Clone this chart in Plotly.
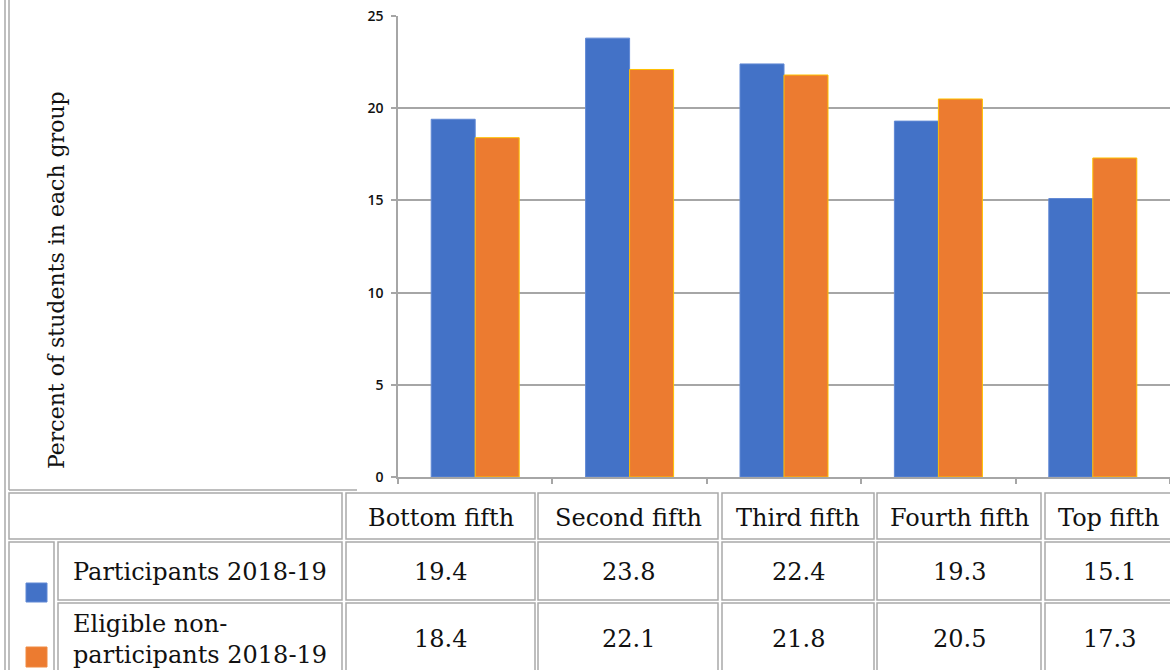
import plotly.graph_objects as go

# ---------------- data ----------------
categories = ["Bottom fifth", "Second fifth", "Third fifth", "Fourth fifth", "Top fifth"]
participants = [19.4, 23.8, 22.4, 19.3, 15.1]
non_participants = [18.4, 22.1, 21.8, 20.5, 17.3]
series_labels = ["Participants 2018-19", "Eligible non-<br>participants 2018-19"]
y_ticks = [0, 5, 10, 15, 20, 25]
y_title = "Percent of students in each group"

# ---------------- layout helpers (pixel -> paper) ----------------
W, H = 1170, 670


def px(x):
    return x / W


def py(y):
    return 1 - y / H


BLUE = "#4372c7"
BLUE_EDGE = "#6088d4"
ORANGE = "#ec7b30"
ORANGE_EDGE = "#ffc000"
GRID = "#a6a6a6"
BORDER = "#a9a9a9"
SERIF = "DejaVu Serif"
TEXT = "#111111"
TABLE_SIZE = 24

fig = go.Figure()
fig.add_bar(x=categories, y=participants, name="Participants 2018-19",
            marker=dict(color=BLUE, line=dict(color=BLUE_EDGE, width=1)))
fig.add_bar(x=categories, y=non_participants, name="Eligible non-participants 2018-19",
            marker=dict(color=ORANGE, line=dict(color=ORANGE_EDGE, width=1)))

fig.update_layout(
    width=W, height=H,
    margin=dict(l=0, r=0, t=0, b=0, autoexpand=False),
    paper_bgcolor="white", plot_bgcolor="white",
    showlegend=False,
    barmode="group", bargap=0.43, bargroupgap=0,
    xaxis=dict(domain=[px(398), 1], showticklabels=False, showline=True, automargin=False,
               linecolor=GRID, linewidth=1.5, ticks="outside", tickson="boundaries",
               ticklen=5, tickcolor=GRID, tickwidth=1.5, showgrid=False, fixedrange=True),
    yaxis=dict(domain=[py(477), py(16)], range=[0, 25], tickvals=y_ticks, automargin=False,
               showline=True, linecolor=GRID, linewidth=1.5, ticks="outside", ticklen=5,
               tickcolor=GRID, tickwidth=1.5, gridcolor=GRID, gridwidth=1.5,
               zeroline=False, ticklabelstandoff=5, fixedrange=True,
               tickfont=dict(family="Open Sans", size=14, color="#111111", weight=600)),
)

shapes = []


def line(x0, y0, x1, y1):
    shapes.append(dict(type="line", xref="paper", yref="paper", x0=px(x0), y0=py(y0),
                       x1=px(x1), y1=py(y1), line=dict(color=BORDER, width=1.5)))


def cell(x0, y0, x1, y1):
    shapes.append(dict(type="rect", xref="paper", yref="paper", x0=px(x0), y0=py(y0),
                       x1=px(x1), y1=py(y1), line=dict(color=BORDER, width=1.5),
                       fillcolor="rgba(0,0,0,0)"))


# outer frame and chart box
line(5, 0, 5, 680)
line(9, 0, 9, 490)
line(9, 490, 357, 490)

# table geometry
col_edges = [(346, 535), (538, 718), (722, 874), (877, 1041), (1045, 1173)]
header_row = (493, 539)
rows = [(542, 600), (603, 690)]
label_col = (58, 342)
key_col = (9, 54)

cell(key_col[0], header_row[0], label_col[1], header_row[1])
for (a, b) in col_edges:
    cell(a, header_row[0], b, header_row[1])
cell(key_col[0], rows[0][0], key_col[1], rows[1][1])
for (r0, r1) in rows:
    cell(label_col[0], r0, label_col[1], r1)
    for (a, b) in col_edges:
        cell(a, r0, b, r1)

# legend keys
key_boxes = [(583, 602), (647, 667)]
for (k0, k1), col, edge in zip(key_boxes, [BLUE, ORANGE], [BLUE_EDGE, "#f08a40"]):
    shapes.append(dict(type="rect", xref="paper", yref="paper", x0=px(26), x1=px(47),
                       y0=py(k0), y1=py(k1), fillcolor=col, line=dict(color=edge, width=1)))

annotations = []
# y axis title
annotations.append(dict(text=y_title, x=px(56), y=py(280), xref="paper", yref="paper",
                        textangle=-90, showarrow=False, xanchor="center", yanchor="middle",
                        font=dict(family=SERIF, size=22, color=TEXT)))
# header labels
for (a, b), cat in zip(col_edges, categories):
    annotations.append(dict(text=cat, x=px((a + b) / 2), y=py(518), xref="paper", yref="paper",
                            showarrow=False, xanchor="center", yanchor="middle",
                            font=dict(family=SERIF, size=TABLE_SIZE, color=TEXT)))
# row labels and values
row_text_y = [572, 639]
for yy, lab, vals in zip(row_text_y, series_labels, [participants, non_participants]):
    annotations.append(dict(text=lab, x=px(71), y=py(yy), xref="paper", yref="paper",
                            showarrow=False, xanchor="left", yanchor="middle", align="left",
                            font=dict(family=SERIF, size=TABLE_SIZE, color=TEXT)))
    for (a, b), v in zip(col_edges, vals):
        annotations.append(dict(text=f"{v:.1f}", x=px((a + b) / 2), y=py(yy), xref="paper",
                                yref="paper", showarrow=False, xanchor="center",
                                yanchor="middle",
                                font=dict(family=SERIF, size=TABLE_SIZE, color=TEXT)))

fig.update_layout(shapes=shapes, annotations=annotations)
fig.write_html("out.html", config={"displayModeBar": False},
               post_script="document.body.style.margin='0';document.body.style.overflow='hidden';")
